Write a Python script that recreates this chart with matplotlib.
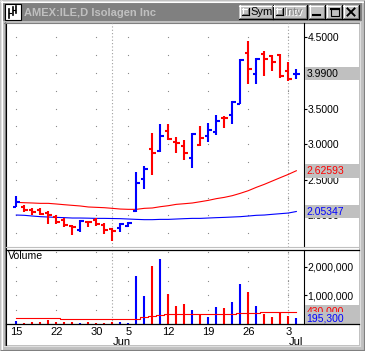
import numpy as np
import matplotlib
matplotlib.use('Agg')
import matplotlib.pyplot as plt
import matplotlib.transforms as mtrans
from matplotlib.patches import Rectangle

plt.rcParams.update({
    'font.family': ['Liberation Sans', 'DejaVu Sans'],
    'font.size': 7.5,
    'axes.linewidth': 0.8,
})

# -------------------------------------------------
# Data: AMEX:ILE daily bars, 15 May - 5 Jul 2006
# -------------------------------------------------
opens  = [2.12, 2.12, 2.07, 2.07, 2.03, 1.97, 1.93, 1.85, 1.79, 1.90, 1.93, 1.87,
          1.81, 1.82, 1.85, 2.06, 2.51, 2.93, 2.91, 3.18, 3.03, 2.98, 2.80, 2.99,
          3.12, 3.17, 3.37, 3.41, 3.57, 4.28, 3.98, 4.26, 4.24, 4.25, 4.02, 3.98]
highs  = [2.27, 2.15, 2.10, 2.10, 2.06, 2.00, 1.96, 1.86, 1.93, 1.91, 1.96, 1.89,
          1.82, 1.89, 1.90, 2.61, 2.69, 3.16, 3.28, 3.28, 3.10, 3.06, 3.15, 3.25,
          3.29, 3.41, 3.40, 3.61, 4.19, 4.45, 4.21, 4.31, 4.25, 4.27, 4.16, 4.06]
lows   = [2.11, 2.04, 2.01, 2.00, 1.88, 1.88, 1.84, 1.72, 1.77, 1.83, 1.85, 1.74,
          1.64, 1.77, 1.83, 2.05, 2.37, 2.57, 2.89, 3.06, 2.88, 2.78, 2.67, 2.97,
          3.03, 3.13, 3.23, 3.28, 3.56, 3.84, 3.84, 3.96, 4.03, 3.93, 3.88, 3.91]
closes = [2.18, 2.08, 2.04, 2.02, 2.00, 1.91, 1.86, 1.84, 1.92, 1.90, 1.88, 1.80,
          1.78, 1.88, 1.89, 2.46, 2.65, 2.87, 3.12, 3.07, 3.01, 2.88, 3.14, 3.08,
          3.20, 3.33, 3.36, 3.59, 4.18, 4.06, 4.20, 4.20, 4.15, 3.96, 3.91, 3.99]
up_day = [1, 0, 0, 0, 0, 0, 0, 0, 1, 0, 0, 0, 0, 1, 1, 1, 1, 0, 1, 0, 0, 0, 1, 0,
          1, 1, 0, 1, 1, 0, 1, 0, 0, 0, 0, 1]
volumes = [105000, 46000, 70000, 70000, 140000, 70000, 70000, 70000, 46000, 70000,
           46000, 46000, 70000, 70000, 46000, 1670000, 990000, 2020000, 2260000,
           1050000, 630000, 700000, 490000, 310000, 240000, 600000, 570000, 770000,
           1390000, 1110000, 630000, 350000, 240000, 390000, 280000, 195300]

ma_red  = [2.182, 2.177, 2.173, 2.168, 2.168, 2.159, 2.149, 2.140, 2.131, 2.117,
           2.112, 2.107, 2.098, 2.088, 2.084, 2.084, 2.098, 2.103, 2.121, 2.135,
           2.154, 2.163, 2.173, 2.191, 2.210, 2.234, 2.252, 2.276, 2.309, 2.346,
           2.393, 2.435, 2.482, 2.529, 2.575, 2.62593]
ma_blue = [2.004, 2.000, 1.990, 1.981, 1.976, 1.971, 1.967, 1.962, 1.962, 1.960,
           1.957, 1.957, 1.955, 1.953, 1.948, 1.943, 1.939, 1.939, 1.943, 1.943,
           1.948, 1.953, 1.957, 1.957, 1.962, 1.967, 1.971, 1.976, 1.981, 1.990,
           2.000, 2.004, 2.014, 2.023, 2.032, 2.05347]
vol_ma = ([209000] * 6 + [174000] * 10 + [232000, 267000, 302000] + [337000] * 4
          + [360000] * 5 + [395000] * 3 + [430000] * 5)

week_idx = [0, 5, 10, 14, 19, 24, 29, 34]
week_labels = ['15', '22', '30', '5', '12', '19', '26', '3']
month_idx = [12, 34]
month_labels = ['Jun', 'Jul']
price_ticks = [2.0, 2.5, 3.0, 3.5, 4.0, 4.5]
vol_ticks = [1000000, 2000000]

title = 'AMEX:ILE,D Isolagen Inc'

# -------------------------------------------------
# Styling / geometry (pixels, top-left origin)
# -------------------------------------------------
W, H = 365, 351
RED, BLUE = '#ff0000', '#0000ff'
FACE, SHADOW, LIGHT = '#c0c0c0', '#808080', '#dfdfdf'
DOT = '#8c8c8c'


def fig_rect(x0, y0, x1, y1):
    return [x0 / W, 1 - y1 / H, (x1 - x0) / W, (y1 - y0) / H]


def bevel(a, x0, y0, x1, y1):
    a.add_patch(Rectangle((x0, y0), x1 - x0, y1 - y0, facecolor=FACE, edgecolor='none'))
    a.plot([x0, x1 - 1], [y0 + 0.5, y0 + 0.5], color='white', lw=0.8)
    a.plot([x0 + 0.5, x0 + 0.5], [y0, y1 - 1], color='white', lw=0.8)
    a.plot([x0 + 1, x1 - 1.5], [y1 - 1.5, y1 - 1.5], color=SHADOW, lw=0.8)
    a.plot([x1 - 1.5, x1 - 1.5], [y0 + 1, y1 - 1.5], color=SHADOW, lw=0.8)
    a.plot([x0, x1], [y1 - 0.5, y1 - 0.5], color='black', lw=0.8)
    a.plot([x1 - 0.5, x1 - 0.5], [y0, y1], color='black', lw=0.8)


fig = plt.figure(figsize=(W / 100, H / 100), dpi=100)
fig.patch.set_facecolor(FACE)

# window chrome
bg = fig.add_axes([0, 0, 1, 1], zorder=0)
bg.set_xlim(0, W)
bg.set_ylim(H, 0)
bg.axis('off')
bg.plot([0, W], [0.5, 0.5], color=LIGHT, lw=0.8)
bg.plot([0.5, 0.5], [0, H], color=LIGHT, lw=0.8)
bg.plot([1, W - 1], [1.5, 1.5], color='white', lw=0.8)
bg.plot([1.5, 1.5], [1, H - 1], color='white', lw=0.8)
bg.plot([0, W], [H - 0.5, H - 0.5], color='black', lw=0.8)
bg.plot([W - 0.5, W - 0.5], [0, H], color='black', lw=0.8)
bg.plot([1, W - 1], [H - 1.5, H - 1.5], color=SHADOW, lw=0.8)
bg.plot([W - 1.5, W - 1.5], [1, H - 1], color=SHADOW, lw=0.8)
bg.add_patch(Rectangle((3, 3), W - 6, 18, facecolor=SHADOW, edgecolor='none'))
bg.text(24, 12.5, title, color=FACE, fontsize=8, fontweight='bold', va='center', ha='left')

# icon
bg.add_patch(Rectangle((5, 4), 16, 16, facecolor='white', edgecolor='black', lw=0.8))
bg.plot([9, 9], [9, 18], color='black', lw=1.2)
bg.plot([12.5, 12.5], [7, 15], color='black', lw=1.2)
bg.plot([16, 16], [6, 13], color='black', lw=1.2)
bg.plot([9, 11], [13, 13], color='black', lw=0.8)
bg.plot([12.5, 14.5], [10, 10], color='black', lw=0.8)

# Sym / Intv buttons
for x0, x1, txt, col in [(239, 273, 'Sym', 'black'), (273, 307, 'Intv', SHADOW)]:
    bevel(bg, x0, 5, x1, 19)
    bevel(bg, x0 + 3, 8, x0 + 10, 15)
    if col == SHADOW:
        bg.text(x0 + 11.7, 12.8, txt, color='white', fontsize=8, va='center', ha='left')
    bg.text(x0 + 11, 12, txt, color=col, fontsize=8, va='center', ha='left')

# min / max / close buttons
for x0 in (309, 326, 343):
    bevel(bg, x0, 5, x0 + 16, 19)
bg.plot([313, 320], [15, 15], color='black', lw=1.5)
bg.add_patch(Rectangle((330.5, 8.5), 8, 7, facecolor='none', edgecolor='black', lw=0.8))
bg.plot([330.5, 338.5], [9, 9], color='black', lw=1.5)
bg.plot([347.5, 354.5], [8.5, 15.5], color='black', lw=1.4)
bg.plot([347.5, 354.5], [15.5, 8.5], color='black', lw=1.4)

# client area
bg.add_patch(Rectangle((6, 23), 353, 322, facecolor='white', edgecolor='none'))
bg.plot([4.5, 4.5], [22, 346], color=SHADOW, lw=0.8)
bg.plot([5.5, 5.5], [23, 345], color='black', lw=0.8)
bg.plot([4, 360], [22.5, 22.5], color=SHADOW, lw=0.8)
bg.plot([359.5, 359.5], [22, 346], color=LIGHT, lw=0.8)
bg.plot([4, 360], [345.5, 345.5], color=LIGHT, lw=0.8)

x = np.arange(len(closes))
colors = [BLUE if u else RED for u in up_day]
xlim = (-1.29, 35.96)

# -------------------------------------------------
# Price panel
# -------------------------------------------------
ax = fig.add_axes(fig_rect(6, 23, 304, 247), zorder=1)
ax.set_facecolor('none')
ax.set_xlim(*xlim)
ax.set_ylim(1.555, 4.701)
for side in ('left', 'top', 'bottom'):
    ax.spines[side].set_visible(False)

gx, gy = np.meshgrid(week_idx, np.arange(1.75, 4.6, 0.25))
ax.plot(gx.ravel(), gy.ravel(), ls='none', marker='s', ms=0.8, mew=0, color=DOT)
for m in month_idx:
    ax.axvline(m, color='#a0a0a0', lw=0.8, ls=(0, (1, 2)))

ax.plot(x, ma_red, color=RED, lw=0.8)
ax.plot(x, ma_blue, color=BLUE, lw=0.8)
ax.vlines(x, lows, highs, colors=colors, lw=1.5)
ax.hlines(opens, x - 0.45, x, colors=colors, lw=1.5)
ax.hlines(closes, x, x + 0.45, colors=colors, lw=1.5)

ax.set_xticks([])
ax.yaxis.tick_right()
ax.set_yticks(price_ticks)
ax.set_yticklabels([f'{v:.4f}' for v in price_ticks])
ax.tick_params(axis='y', length=2, width=0.8, pad=0.5, labelsize=7.5)

tag_w = 55 / 298


def value_tag(a, val, text, color, h, z=6, floor=None):
    tr = mtrans.blended_transform_factory(a.transAxes, a.transData)
    y0 = val - h / 2
    if floor is not None:
        y0 = max(y0, floor)
    a.add_patch(Rectangle((1.004, y0), tag_w, val + h / 2 - y0, transform=tr,
                          facecolor=FACE, edgecolor='none', clip_on=False, zorder=z))
    a.text(1.008, val, text, transform=tr, color=color, va='center', ha='left',
           fontsize=7.5, clip_on=False, zorder=z + 1)


value_tag(ax, closes[-1], f'{closes[-1]:.4f}', 'black', 0.19)
value_tag(ax, ma_red[-1], f'{ma_red[-1]:.5f}', RED, 0.19)
value_tag(ax, ma_blue[-1], f'{ma_blue[-1]:.5f}', BLUE, 0.19)

# -------------------------------------------------
# Volume panel
# -------------------------------------------------
vax = fig.add_axes(fig_rect(6, 250, 304, 324), zorder=1)
vax.set_facecolor('none')
vax.set_xlim(*xlim)
vax.set_ylim(0, 2578000)
for side in ('left', 'top', 'bottom'):
    vax.spines[side].set_visible(False)

gx, gy = np.meshgrid(week_idx, np.arange(500000, 2600000, 500000))
vax.plot(gx.ravel(), gy.ravel(), ls='none', marker='s', ms=0.8, mew=0, color=DOT)
for m in month_idx:
    vax.axvline(m, color='#a0a0a0', lw=0.8, ls=(0, (1, 2)))

vax.vlines(x, 0, volumes, colors=colors, lw=1.5)
vax.plot(x, vol_ma, color=RED, lw=0.8, drawstyle='steps-mid')

vax.yaxis.tick_right()
vax.set_yticks(vol_ticks)
vax.set_yticklabels([f'{v:,}' for v in vol_ticks])
vax.tick_params(axis='y', length=2, width=0.8, pad=0.5, labelsize=7.5)
vax.set_xticks(week_idx)
vax.set_xticklabels(week_labels)
vax.tick_params(axis='x', length=0, pad=2.5, labelsize=8)

mtr = mtrans.blended_transform_factory(vax.transData, vax.transAxes)
for m, lab in zip(month_idx, month_labels):
    vax.text(m + 0.1, -0.175, lab, transform=mtr, ha='left', va='top', fontsize=8)

vax.text(0.007, 0.985, 'Volume', transform=vax.transAxes, ha='left', va='top', fontsize=7.6)

# red average tag sits under the blue volume tag, as in the source chart
value_tag(vax, vol_ma[-1], f'{vol_ma[-1]:,}', RED, 474000, z=6)
value_tag(vax, volumes[-1], f'{volumes[-1]:,}', BLUE, 474000, z=8, floor=0)

# separators drawn on top
ov = fig.add_axes([0, 0, 1, 1], zorder=5)
ov.set_xlim(0, W)
ov.set_ylim(H, 0)
ov.axis('off')
ov.plot([6, 359], [247, 247], color=FACE, lw=0.8)
ov.plot([6, 359], [249.5, 249.5], color='black', lw=0.9)
ov.plot([6, 359], [324, 324], color='black', lw=0.9)

plt.savefig('out.png', dpi=100, facecolor=fig.get_facecolor())
plt.close(fig)
